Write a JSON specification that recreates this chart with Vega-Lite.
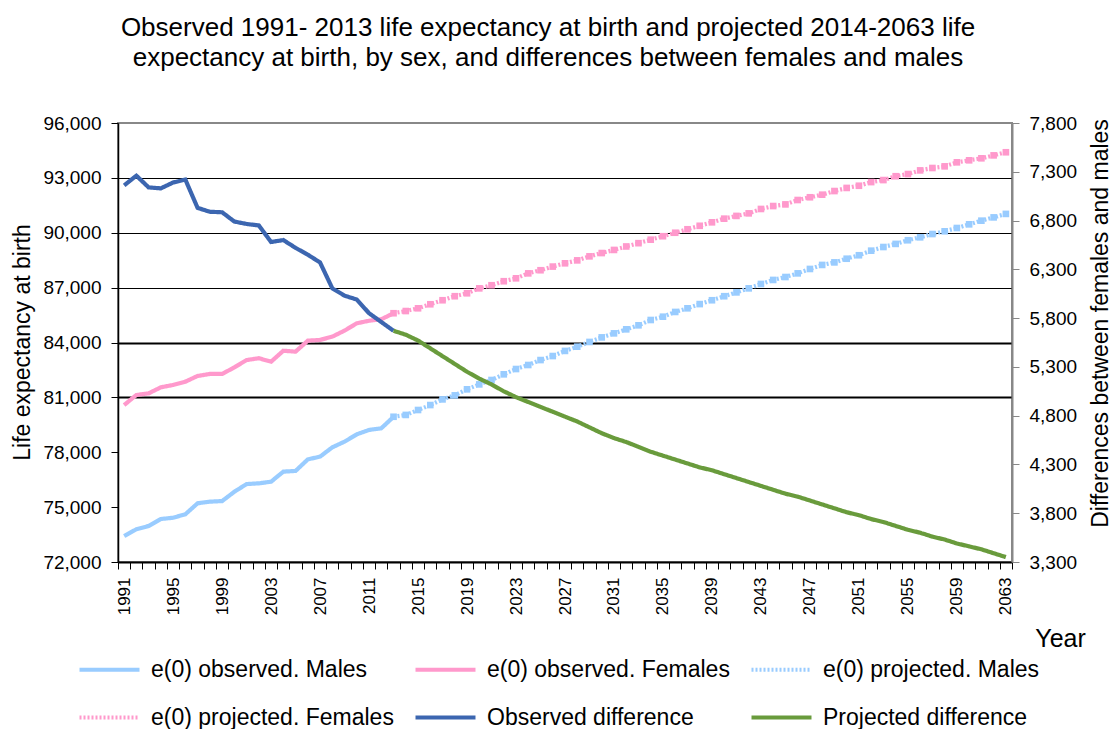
{
  "$schema": "https://vega.github.io/schema/vega-lite/v6.json",
  "width": 894,
  "height": 439,
  "autosize": {"type": "none"},
  "padding": {"left": 118, "top": 123, "right": 100, "bottom": 167},
  "background": "white",
  "title": {
    "text": ["Observed 1991- 2013 life expectancy at birth and projected 2014-2063 life", "expectancy at birth, by sex, and differences between females and males"],
    "font": "Liberation Sans",
    "fontSize": 26,
    "fontWeight": "normal",
    "color": "black",
    "lineHeight": 30,
    "offset": 43,
    "dx": -17
  },
  "config": {
    "font": "Liberation Sans",
    "view": {"stroke": "#888888", "strokeWidth": 2}
  },
  "data": {"values": [
      {"year": 1991, "series": "e(0) observed. Males", "value": 73.42},
      {"year": 1992, "series": "e(0) observed. Males", "value": 73.79},
      {"year": 1993, "series": "e(0) observed. Males", "value": 73.97},
      {"year": 1994, "series": "e(0) observed. Males", "value": 74.35},
      {"year": 1995, "series": "e(0) observed. Males", "value": 74.42},
      {"year": 1996, "series": "e(0) observed. Males", "value": 74.61},
      {"year": 1997, "series": "e(0) observed. Males", "value": 75.21},
      {"year": 1998, "series": "e(0) observed. Males", "value": 75.30},
      {"year": 1999, "series": "e(0) observed. Males", "value": 75.33},
      {"year": 2000, "series": "e(0) observed. Males", "value": 75.84},
      {"year": 2001, "series": "e(0) observed. Males", "value": 76.26},
      {"year": 2002, "series": "e(0) observed. Males", "value": 76.30},
      {"year": 2003, "series": "e(0) observed. Males", "value": 76.39},
      {"year": 2004, "series": "e(0) observed. Males", "value": 76.94},
      {"year": 2005, "series": "e(0) observed. Males", "value": 76.98},
      {"year": 2006, "series": "e(0) observed. Males", "value": 77.61},
      {"year": 2007, "series": "e(0) observed. Males", "value": 77.76},
      {"year": 2008, "series": "e(0) observed. Males", "value": 78.27},
      {"year": 2009, "series": "e(0) observed. Males", "value": 78.58},
      {"year": 2010, "series": "e(0) observed. Males", "value": 78.98},
      {"year": 2011, "series": "e(0) observed. Males", "value": 79.22},
      {"year": 2012, "series": "e(0) observed. Males", "value": 79.31},
      {"year": 2013, "series": "e(0) observed. Males", "value": 79.94},
      {"year": 1991, "series": "e(0) observed. Females", "value": 80.58},
      {"year": 1992, "series": "e(0) observed. Females", "value": 81.13},
      {"year": 1993, "series": "e(0) observed. Females", "value": 81.22},
      {"year": 1994, "series": "e(0) observed. Females", "value": 81.55},
      {"year": 1995, "series": "e(0) observed. Females", "value": 81.68},
      {"year": 1996, "series": "e(0) observed. Females", "value": 81.86},
      {"year": 1997, "series": "e(0) observed. Females", "value": 82.17},
      {"year": 1998, "series": "e(0) observed. Females", "value": 82.28},
      {"year": 1999, "series": "e(0) observed. Females", "value": 82.28},
      {"year": 2000, "series": "e(0) observed. Females", "value": 82.64},
      {"year": 2001, "series": "e(0) observed. Females", "value": 83.04},
      {"year": 2002, "series": "e(0) observed. Females", "value": 83.14},
      {"year": 2003, "series": "e(0) observed. Females", "value": 82.95},
      {"year": 2004, "series": "e(0) observed. Females", "value": 83.55},
      {"year": 2005, "series": "e(0) observed. Females", "value": 83.50},
      {"year": 2006, "series": "e(0) observed. Females", "value": 84.10},
      {"year": 2007, "series": "e(0) observed. Females", "value": 84.14},
      {"year": 2008, "series": "e(0) observed. Females", "value": 84.32},
      {"year": 2009, "series": "e(0) observed. Females", "value": 84.65},
      {"year": 2010, "series": "e(0) observed. Females", "value": 85.05},
      {"year": 2011, "series": "e(0) observed. Females", "value": 85.19},
      {"year": 2012, "series": "e(0) observed. Females", "value": 85.27},
      {"year": 2013, "series": "e(0) observed. Females", "value": 85.60},
      {"year": 2013, "series": "e(0) projected. Males", "value": 79.94},
      {"year": 2014, "series": "e(0) projected. Males", "value": 80.04},
      {"year": 2015, "series": "e(0) projected. Males", "value": 80.31},
      {"year": 2016, "series": "e(0) projected. Males", "value": 80.58},
      {"year": 2017, "series": "e(0) projected. Males", "value": 80.89},
      {"year": 2018, "series": "e(0) projected. Males", "value": 81.11},
      {"year": 2019, "series": "e(0) projected. Males", "value": 81.44},
      {"year": 2020, "series": "e(0) projected. Males", "value": 81.71},
      {"year": 2021, "series": "e(0) projected. Males", "value": 81.95},
      {"year": 2022, "series": "e(0) projected. Males", "value": 82.26},
      {"year": 2023, "series": "e(0) projected. Males", "value": 82.55},
      {"year": 2024, "series": "e(0) projected. Males", "value": 82.77},
      {"year": 2025, "series": "e(0) projected. Males", "value": 83.04},
      {"year": 2026, "series": "e(0) projected. Males", "value": 83.26},
      {"year": 2027, "series": "e(0) projected. Males", "value": 83.54},
      {"year": 2028, "series": "e(0) projected. Males", "value": 83.77},
      {"year": 2029, "series": "e(0) projected. Males", "value": 84.03},
      {"year": 2030, "series": "e(0) projected. Males", "value": 84.28},
      {"year": 2031, "series": "e(0) projected. Males", "value": 84.50},
      {"year": 2032, "series": "e(0) projected. Males", "value": 84.72},
      {"year": 2033, "series": "e(0) projected. Males", "value": 84.94},
      {"year": 2034, "series": "e(0) projected. Males", "value": 85.23},
      {"year": 2035, "series": "e(0) projected. Males", "value": 85.41},
      {"year": 2036, "series": "e(0) projected. Males", "value": 85.67},
      {"year": 2037, "series": "e(0) projected. Males", "value": 85.87},
      {"year": 2038, "series": "e(0) projected. Males", "value": 86.10},
      {"year": 2039, "series": "e(0) projected. Males", "value": 86.31},
      {"year": 2040, "series": "e(0) projected. Males", "value": 86.53},
      {"year": 2041, "series": "e(0) projected. Males", "value": 86.74},
      {"year": 2042, "series": "e(0) projected. Males", "value": 86.96},
      {"year": 2043, "series": "e(0) projected. Males", "value": 87.20},
      {"year": 2044, "series": "e(0) projected. Males", "value": 87.42},
      {"year": 2045, "series": "e(0) projected. Males", "value": 87.58},
      {"year": 2046, "series": "e(0) projected. Males", "value": 87.78},
      {"year": 2047, "series": "e(0) projected. Males", "value": 88.02},
      {"year": 2048, "series": "e(0) projected. Males", "value": 88.24},
      {"year": 2049, "series": "e(0) projected. Males", "value": 88.38},
      {"year": 2050, "series": "e(0) projected. Males", "value": 88.58},
      {"year": 2051, "series": "e(0) projected. Males", "value": 88.77},
      {"year": 2052, "series": "e(0) projected. Males", "value": 89.02},
      {"year": 2053, "series": "e(0) projected. Males", "value": 89.22},
      {"year": 2054, "series": "e(0) projected. Males", "value": 89.39},
      {"year": 2055, "series": "e(0) projected. Males", "value": 89.59},
      {"year": 2056, "series": "e(0) projected. Males", "value": 89.75},
      {"year": 2057, "series": "e(0) projected. Males", "value": 89.93},
      {"year": 2058, "series": "e(0) projected. Males", "value": 90.08},
      {"year": 2059, "series": "e(0) projected. Males", "value": 90.26},
      {"year": 2060, "series": "e(0) projected. Males", "value": 90.46},
      {"year": 2061, "series": "e(0) projected. Males", "value": 90.66},
      {"year": 2062, "series": "e(0) projected. Males", "value": 90.84},
      {"year": 2063, "series": "e(0) projected. Males", "value": 91.03},
      {"year": 2013, "series": "e(0) projected. Females", "value": 85.60},
      {"year": 2014, "series": "e(0) projected. Females", "value": 85.72},
      {"year": 2015, "series": "e(0) projected. Females", "value": 85.87},
      {"year": 2016, "series": "e(0) projected. Females", "value": 86.09},
      {"year": 2017, "series": "e(0) projected. Females", "value": 86.31},
      {"year": 2018, "series": "e(0) projected. Females", "value": 86.53},
      {"year": 2019, "series": "e(0) projected. Females", "value": 86.69},
      {"year": 2020, "series": "e(0) projected. Females", "value": 86.96},
      {"year": 2021, "series": "e(0) projected. Females", "value": 87.13},
      {"year": 2022, "series": "e(0) projected. Females", "value": 87.35},
      {"year": 2023, "series": "e(0) projected. Females", "value": 87.51},
      {"year": 2024, "series": "e(0) projected. Females", "value": 87.78},
      {"year": 2025, "series": "e(0) projected. Females", "value": 87.95},
      {"year": 2026, "series": "e(0) projected. Females", "value": 88.15},
      {"year": 2027, "series": "e(0) projected. Females", "value": 88.33},
      {"year": 2028, "series": "e(0) projected. Females", "value": 88.49},
      {"year": 2029, "series": "e(0) projected. Females", "value": 88.71},
      {"year": 2030, "series": "e(0) projected. Females", "value": 88.89},
      {"year": 2031, "series": "e(0) projected. Females", "value": 89.06},
      {"year": 2032, "series": "e(0) projected. Females", "value": 89.25},
      {"year": 2033, "series": "e(0) projected. Females", "value": 89.43},
      {"year": 2034, "series": "e(0) projected. Females", "value": 89.62},
      {"year": 2035, "series": "e(0) projected. Females", "value": 89.81},
      {"year": 2036, "series": "e(0) projected. Females", "value": 90.00},
      {"year": 2037, "series": "e(0) projected. Females", "value": 90.19},
      {"year": 2038, "series": "e(0) projected. Females", "value": 90.38},
      {"year": 2039, "series": "e(0) projected. Females", "value": 90.57},
      {"year": 2040, "series": "e(0) projected. Females", "value": 90.77},
      {"year": 2041, "series": "e(0) projected. Females", "value": 90.92},
      {"year": 2042, "series": "e(0) projected. Females", "value": 91.06},
      {"year": 2043, "series": "e(0) projected. Females", "value": 91.30},
      {"year": 2044, "series": "e(0) projected. Females", "value": 91.46},
      {"year": 2045, "series": "e(0) projected. Females", "value": 91.55},
      {"year": 2046, "series": "e(0) projected. Females", "value": 91.79},
      {"year": 2047, "series": "e(0) projected. Females", "value": 91.94},
      {"year": 2048, "series": "e(0) projected. Females", "value": 92.08},
      {"year": 2049, "series": "e(0) projected. Females", "value": 92.28},
      {"year": 2050, "series": "e(0) projected. Females", "value": 92.45},
      {"year": 2051, "series": "e(0) projected. Females", "value": 92.57},
      {"year": 2052, "series": "e(0) projected. Females", "value": 92.77},
      {"year": 2053, "series": "e(0) projected. Females", "value": 92.88},
      {"year": 2054, "series": "e(0) projected. Females", "value": 93.09},
      {"year": 2055, "series": "e(0) projected. Females", "value": 93.21},
      {"year": 2056, "series": "e(0) projected. Females", "value": 93.41},
      {"year": 2057, "series": "e(0) projected. Females", "value": 93.54},
      {"year": 2058, "series": "e(0) projected. Females", "value": 93.63},
      {"year": 2059, "series": "e(0) projected. Females", "value": 93.85},
      {"year": 2060, "series": "e(0) projected. Females", "value": 93.96},
      {"year": 2061, "series": "e(0) projected. Females", "value": 94.07},
      {"year": 2062, "series": "e(0) projected. Females", "value": 94.23},
      {"year": 2063, "series": "e(0) projected. Females", "value": 94.40},
      {"year": 1991, "series": "Observed difference", "value": 7.16},
      {"year": 1992, "series": "Observed difference", "value": 7.26},
      {"year": 1993, "series": "Observed difference", "value": 7.14},
      {"year": 1994, "series": "Observed difference", "value": 7.13},
      {"year": 1995, "series": "Observed difference", "value": 7.19},
      {"year": 1996, "series": "Observed difference", "value": 7.22},
      {"year": 1997, "series": "Observed difference", "value": 6.93},
      {"year": 1998, "series": "Observed difference", "value": 6.89},
      {"year": 1999, "series": "Observed difference", "value": 6.885},
      {"year": 2000, "series": "Observed difference", "value": 6.79},
      {"year": 2001, "series": "Observed difference", "value": 6.765},
      {"year": 2002, "series": "Observed difference", "value": 6.75},
      {"year": 2003, "series": "Observed difference", "value": 6.58},
      {"year": 2004, "series": "Observed difference", "value": 6.60},
      {"year": 2005, "series": "Observed difference", "value": 6.52},
      {"year": 2006, "series": "Observed difference", "value": 6.45},
      {"year": 2007, "series": "Observed difference", "value": 6.37},
      {"year": 2008, "series": "Observed difference", "value": 6.105},
      {"year": 2009, "series": "Observed difference", "value": 6.03},
      {"year": 2010, "series": "Observed difference", "value": 5.99},
      {"year": 2011, "series": "Observed difference", "value": 5.85},
      {"year": 2012, "series": "Observed difference", "value": 5.76},
      {"year": 2013, "series": "Observed difference", "value": 5.67},
      {"year": 2013, "series": "Projected difference", "value": 5.67},
      {"year": 2014, "series": "Projected difference", "value": 5.63},
      {"year": 2015, "series": "Projected difference", "value": 5.57},
      {"year": 2016, "series": "Projected difference", "value": 5.49},
      {"year": 2017, "series": "Projected difference", "value": 5.41},
      {"year": 2018, "series": "Projected difference", "value": 5.33},
      {"year": 2019, "series": "Projected difference", "value": 5.25},
      {"year": 2020, "series": "Projected difference", "value": 5.18},
      {"year": 2021, "series": "Projected difference", "value": 5.12},
      {"year": 2022, "series": "Projected difference", "value": 5.05},
      {"year": 2023, "series": "Projected difference", "value": 4.99},
      {"year": 2024, "series": "Projected difference", "value": 4.94},
      {"year": 2025, "series": "Projected difference", "value": 4.89},
      {"year": 2026, "series": "Projected difference", "value": 4.84},
      {"year": 2027, "series": "Projected difference", "value": 4.79},
      {"year": 2028, "series": "Projected difference", "value": 4.74},
      {"year": 2029, "series": "Projected difference", "value": 4.68},
      {"year": 2030, "series": "Projected difference", "value": 4.62},
      {"year": 2031, "series": "Projected difference", "value": 4.57},
      {"year": 2032, "series": "Projected difference", "value": 4.53},
      {"year": 2033, "series": "Projected difference", "value": 4.48},
      {"year": 2034, "series": "Projected difference", "value": 4.43},
      {"year": 2035, "series": "Projected difference", "value": 4.39},
      {"year": 2036, "series": "Projected difference", "value": 4.35},
      {"year": 2037, "series": "Projected difference", "value": 4.31},
      {"year": 2038, "series": "Projected difference", "value": 4.27},
      {"year": 2039, "series": "Projected difference", "value": 4.24},
      {"year": 2040, "series": "Projected difference", "value": 4.20},
      {"year": 2041, "series": "Projected difference", "value": 4.16},
      {"year": 2042, "series": "Projected difference", "value": 4.12},
      {"year": 2043, "series": "Projected difference", "value": 4.08},
      {"year": 2044, "series": "Projected difference", "value": 4.04},
      {"year": 2045, "series": "Projected difference", "value": 4.00},
      {"year": 2046, "series": "Projected difference", "value": 3.97},
      {"year": 2047, "series": "Projected difference", "value": 3.93},
      {"year": 2048, "series": "Projected difference", "value": 3.89},
      {"year": 2049, "series": "Projected difference", "value": 3.85},
      {"year": 2050, "series": "Projected difference", "value": 3.81},
      {"year": 2051, "series": "Projected difference", "value": 3.78},
      {"year": 2052, "series": "Projected difference", "value": 3.74},
      {"year": 2053, "series": "Projected difference", "value": 3.71},
      {"year": 2054, "series": "Projected difference", "value": 3.67},
      {"year": 2055, "series": "Projected difference", "value": 3.63},
      {"year": 2056, "series": "Projected difference", "value": 3.60},
      {"year": 2057, "series": "Projected difference", "value": 3.56},
      {"year": 2058, "series": "Projected difference", "value": 3.53},
      {"year": 2059, "series": "Projected difference", "value": 3.49},
      {"year": 2060, "series": "Projected difference", "value": 3.46},
      {"year": 2061, "series": "Projected difference", "value": 3.43},
      {"year": 2062, "series": "Projected difference", "value": 3.39},
      {"year": 2063, "series": "Projected difference", "value": 3.35}
  ]},
  "encoding": {
    "x": {
      "field": "year",
      "type": "ordinal",
      "scale": {"type": "band", "paddingInner": 0, "paddingOuter": 0},
      "axis": {
        "tickBand": "extent",
        "labelAngle": -90,
        "labelExpr": "(datum.value - 1991) % 4 == 0 ? datum.label : ''",
        "labelFont": "Liberation Sans",
        "labelFontSize": 17,
        "labelColor": "black",
        "labelPadding": 8,
        "tickSize": 7,
        "tickColor": "black",
        "tickWidth": 1,
        "domainColor": "black",
        "domainWidth": 2,
        "grid": false,
        "title": "Year",
        "titleFont": "Liberation Sans",
        "titleFontSize": 25,
        "titleFontWeight": "normal",
        "titleColor": "black",
        "titleX": 942,
        "titleY": 84,
        "titleAlign": "center",
        "titleBaseline": "alphabetic"
      }
    },
    "color": {
      "field": "series",
      "type": "nominal",
      "scale": {
        "domain": ["e(0) observed. Males", "e(0) observed. Females", "e(0) projected. Males", "e(0) projected. Females", "Observed difference", "Projected difference"],
        "range": ["#99CCFF", "#FF99CC", "#99CCFF", "#FF99CC", "#3C66B0", "#699B3C"]
      },
      "legend": {
        "orient": "none",
        "legendX": -31,
        "legendY": 524,
        "columns": 3,
        "direction": "horizontal",
        "title": null,
        "padding": 0,
        "labelFont": "Liberation Sans",
        "labelFontSize": 23,
        "labelColor": "black",
        "labelLimit": 500,
        "labelOffset": 19,
        "symbolSize": 1600,
        "symbolType": "M-1.5,0H1.5",
        "columnPadding": 13,
        "rowPadding": 13
      }
    }
  },
  "layer": [
    {
      "encoding": {
        "y": {
          "field": "value",
          "type": "quantitative",
          "scale": {"domain": [72, 96], "nice": false, "zero": false},
          "axis": {
            "values": [72, 75, 78, 81, 84, 87, 90, 93, 96],
            "labelExpr": "replace(format(datum.value, '.3f'), '.', ',')",
            "labelFont": "Liberation Sans",
            "labelFontSize": 19,
            "labelColor": "black",
            "labelPadding": 10,
            "tickSize": 7,
            "tickColor": "black",
            "domainColor": "black",
            "domainWidth": 1.5,
            "grid": true,
            "gridColor": "black",
            "gridWidth": {"condition": {"test": "datum.value <= 85", "value": 2.2}, "value": 1.2},
            "gridOpacity": {"condition": {"test": "datum.value < 80 || datum.value > 95", "value": 0}, "value": 1},
            "title": "Life expectancy at birth",
            "titleFont": "Liberation Sans",
            "titleFontSize": 23,
            "titleFontWeight": "normal",
            "titleColor": "black",
            "titleAngle": 270,
            "titleX": -96,
            "titleY": 219,
            "titleAlign": "center",
            "titleBaseline": "middle"
          }
        }
      },
      "layer": [
        {
          "transform": [{"filter": {"field": "series", "oneOf": ["e(0) projected. Males", "e(0) projected. Females", "e(0) observed. Males", "e(0) observed. Females"]}}],
          "mark": {"type": "line"},
          "encoding": {
            "strokeDash": {
              "field": "series",
              "type": "nominal",
              "scale": {
                "domain": ["e(0) observed. Males", "e(0) observed. Females", "e(0) projected. Males", "e(0) projected. Females", "Observed difference", "Projected difference"],
                "range": [[1, 0], [1, 0], [2, 2], [2, 2], [1, 0], [1, 0]]
              }
            },
            "strokeWidth": {
              "field": "series",
              "type": "ordinal",
              "scale": {
                "domain": ["e(0) observed. Males", "e(0) observed. Females", "e(0) projected. Males", "e(0) projected. Females", "Observed difference", "Projected difference"],
                "range": [4.2, 4.2, 1.2, 1.2, 3.2, 3.2]
              }
            }
          }
        },
        {
          "transform": [{"filter": {"field": "series", "oneOf": ["e(0) projected. Males", "e(0) projected. Females"]}}],
          "mark": {"type": "point", "shape": "square", "filled": true, "size": 44, "opacity": 1}
        }
      ]
    },
    {
      "transform": [{"filter": {"field": "series", "oneOf": ["Observed difference", "Projected difference"]}}],
      "mark": {"type": "line"},
      "encoding": {
        "strokeDash": {"field": "series", "type": "nominal"},
        "strokeWidth": {"field": "series", "type": "ordinal"},
        "y": {
          "field": "value",
          "type": "quantitative",
          "scale": {"domain": [3.3, 7.8], "nice": false, "zero": false},
          "axis": {
            "orient": "right",
            "values": [3.3, 3.8, 4.3, 4.8, 5.3, 5.8, 6.3, 6.8, 7.3, 7.8],
            "labelExpr": "replace(format(datum.value, '.3f'), '.', ',')",
            "labelFont": "Liberation Sans",
            "labelFontSize": 19,
            "labelColor": "black",
            "labelPadding": 10,
            "tickSize": 7,
            "tickColor": "#888888",
            "domainColor": "#888888",
            "domainWidth": 2,
            "grid": false,
            "title": "Differences between females and males",
            "titleFont": "Liberation Sans",
            "titleFontSize": 23,
            "titleFontWeight": "normal",
            "titleColor": "black",
            "titleAngle": 270,
            "titleX": 88,
            "titleY": 200,
            "titleAlign": "center",
            "titleBaseline": "middle"
          }
        }
      }
    }
  ],
  "resolve": {"scale": {"y": "independent"}}
}
